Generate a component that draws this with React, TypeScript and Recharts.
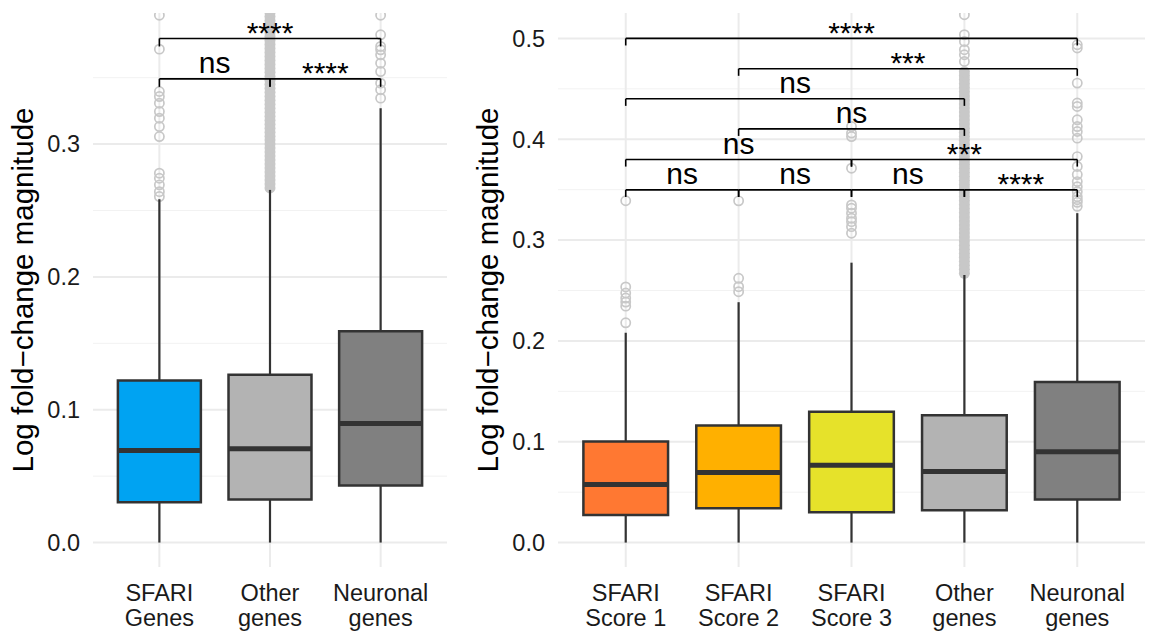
import React from 'react';
import { ComposedChart, XAxis, YAxis, CartesianGrid, ReferenceArea, ReferenceLine, Scatter } from 'recharts';

const FONT = '"Liberation Sans", Arial, Helvetica, sans-serif';

// ---------- Left panel data ----------
const leftLabels = [["SFARI", "Genes"], ["Other", "genes"], ["Neuronal", "genes"]];
const leftColors = ["#00A3F2", "#B3B3B3", "#808080"];
const leftLow = [0, 0, 0];
const leftQ1 = [0.0304, 0.0324, 0.043];
const leftMedian = [0.0693, 0.0706, 0.0897];
const leftQ3 = [0.1221, 0.1263, 0.159];
const leftHigh = [0.2585, 0.2655, 0.327];
const leftOutSfari = [0.2605, 0.2642, 0.2693, 0.2743, 0.2781, 0.3057, 0.3132, 0.3195, 0.3245, 0.3308, 0.3358, 0.3396, 0.3715, 0.397];
const leftOutOther: number[] = [];
const leftOutNeuronal = [0.3346, 0.3409, 0.3459, 0.3546, 0.3609, 0.3672, 0.371, 0.3735, 0.3823, 0.397];
const leftBandOther = [0.267, 0.27, 0.273, 0.276, 0.279, 0.282, 0.285, 0.288, 0.291, 0.294, 0.297, 0.3, 0.303, 0.306, 0.309, 0.312, 0.315, 0.318, 0.321, 0.324, 0.327, 0.33, 0.333, 0.336, 0.339, 0.342, 0.345, 0.348, 0.351, 0.354, 0.357, 0.36, 0.363, 0.366, 0.369, 0.372, 0.375, 0.378, 0.381, 0.384, 0.387, 0.39, 0.393, 0.396, 0.399];
const leftYTicks = [0, 0.1, 0.2, 0.3];
const leftYMinor = [0.05, 0.15, 0.25, 0.35];
const leftDomain = [-0.0184, 0.3987];
const leftBracketFrom = [0, 1, 0];
const leftBracketTo = [1, 2, 2];
const leftBracketY = [0.3491, 0.3491, 0.3795];
const leftBracketText = ["ns", "****", "****"];

// ---------- Right panel data ----------
const rightLabels = [["SFARI", "Score 1"], ["SFARI", "Score 2"], ["SFARI", "Score 3"], ["Other", "genes"], ["Neuronal", "genes"]];
const rightColors = ["#FF7832", "#FFB000", "#E6E22A", "#B3B3B3", "#808080"];
const rightLow = [0, 0, 0, 0, 0];
const rightQ1 = [0.0274, 0.0341, 0.0301, 0.0321, 0.0427];
const rightMedian = [0.0576, 0.0695, 0.0767, 0.0705, 0.09];
const rightQ3 = [0.1003, 0.1162, 0.1297, 0.1264, 0.1592];
const rightHigh = [0.2081, 0.2384, 0.2776, 0.2654, 0.3267];
const rightOutS1 = [0.218, 0.2345, 0.2385, 0.2425, 0.2475, 0.2535, 0.339];
const rightOutS2 = [0.2488, 0.2538, 0.2621, 0.3389];
const rightOutS3 = [0.3068, 0.3133, 0.3183, 0.3217, 0.3267, 0.3316, 0.3349, 0.3713, 0.4027, 0.4061, 0.4126];
const rightOutOther = [0.4772, 0.4838, 0.4888, 0.497, 0.5037, 0.5235];
const rightOutNeuronal = [0.3335, 0.3375, 0.340, 0.343, 0.348, 0.353, 0.358, 0.365, 0.373, 0.3828, 0.4011, 0.4077, 0.4126, 0.4193, 0.4325, 0.4359, 0.4557, 0.4905, 0.4937];
const rightBandOther = [0.267, 0.271, 0.275, 0.279, 0.283, 0.287, 0.291, 0.295, 0.299, 0.303, 0.307, 0.311, 0.315, 0.319, 0.323, 0.327, 0.331, 0.335, 0.339, 0.343, 0.347, 0.351, 0.355, 0.359, 0.363, 0.367, 0.371, 0.375, 0.379, 0.383, 0.387, 0.391, 0.395, 0.399, 0.403, 0.407, 0.411, 0.415, 0.419, 0.423, 0.427, 0.431, 0.435, 0.439, 0.443, 0.447, 0.451, 0.455, 0.459, 0.463, 0.467];
const rightYTicks = [0, 0.1, 0.2, 0.3, 0.4, 0.5];
const rightYMinor = [0.05, 0.15, 0.25, 0.35, 0.45];
const rightDomain = [-0.0242, 0.5252];
const rightBracketFrom = [0, 1, 2, 3, 0, 2, 1, 0, 1, 0];
const rightBracketTo = [1, 2, 3, 4, 2, 4, 3, 3, 4, 4];
const rightBracketY = [0.3498, 0.3498, 0.3498, 0.3498, 0.3799, 0.3799, 0.4103, 0.4401, 0.4699, 0.5];
const rightBracketText = ["ns", "ns", "ns", "****", "ns", "***", "ns", "ns", "***", "****"];

const TITLE = "Log fold\u2212change magnitude";

type PanelProps = {
  width: number;
  yAxisWidth: number;
  rightMargin: number;
  labels: string[][];
  colors: string[];
  low: number[];
  q1: number[];
  median: number[];
  q3: number[];
  high: number[];
  outliers: number[][];
  bands: number[][];
  yTicks: number[];
  yMinor: number[];
  domain: number[];
  bFrom: number[];
  bTo: number[];
  bY: number[];
  bText: string[];
  tip: number;
};

const Panel = (p: PanelProps) => {
  const n = p.labels.length;
  const idx = p.labels.map((_, i) => i);
  const half = 0.375;
  const outPts = p.outliers.flatMap((arr, i) => arr.map((v) => ({ x: i, y: v })));
  const bandPts = p.bands.flatMap((arr, i) => arr.map((v) => ({ x: i, y: v })));
  const labelPts = p.bText.map((t, k) => ({ x: (p.bFrom[k] + p.bTo[k]) / 2, y: p.bY[k], label: t }));

  const xTick = (props: any) => {
    const { x, y, payload } = props;
    const lines = p.labels[Math.round(payload.value)] || [];
    return (
      <text x={x} y={y} textAnchor="middle" fontSize={23.5} fill="#1a1a1a" fontFamily={FONT}>
        {lines.map((l, k) => (
          <tspan key={k} x={x} dy={k === 0 ? 34 : 25}>{l}</tspan>
        ))}
      </text>
    );
  };

  const yTitle = (props: any) => {
    const vb = props.viewBox || {};
    const cx = vb.x + vb.width - 70.5;
    const cy = vb.y + vb.height / 2;
    return (
      <text x={cx} y={cy} transform={`rotate(-90 ${cx} ${cy})`} textAnchor="middle" dominantBaseline="central"
        fontSize={29.5} fill="#000" fontFamily={FONT}>{TITLE}</text>
    );
  };

  const ring = (props: any) => (
    <circle cx={props.cx} cy={props.cy} r={4.6} fill="none" stroke="#c8c8c8" strokeWidth={1.7} />
  );
  const blob = (props: any) => (
    <circle cx={props.cx} cy={props.cy} r={5.5} fill="#c8c8c8" stroke="none" />
  );
  const textShape = (props: any) => {
    const label: string = props.payload.label;
    const stars = label.startsWith('*');
    return (
      <text x={props.cx} y={props.cy} dy={stars ? 4.5 : -5.5} textAnchor="middle" fontSize={30}
        fill="#000" fontFamily={FONT}>{label}</text>
    );
  };

  return (
    <ComposedChart width={p.width} height={631} margin={{ top: 13, right: p.rightMargin, bottom: 0, left: 0 }}>
      <CartesianGrid horizontal vertical={false} horizontalValues={p.yMinor} stroke="#f2f2f2" strokeWidth={1} />
      <CartesianGrid horizontal vertical horizontalValues={p.yTicks} verticalValues={idx} stroke="#ebebeb" strokeWidth={2} />
      <XAxis type="number" dataKey="x" domain={[-0.6, n - 0.4]} ticks={idx} interval={0} allowDataOverflow
        axisLine={false} tickLine={false} tickSize={0} tickMargin={0} height={64} tick={xTick} />
      <YAxis type="number" domain={p.domain} ticks={p.yTicks} allowDataOverflow axisLine={false} tickLine={false}
        tickSize={0} tickMargin={13} width={p.yAxisWidth} tickFormatter={(v: number) => v.toFixed(1)}
        tick={{ fontSize: 23.5, fill: '#1a1a1a', fontFamily: FONT }} label={yTitle} />
      <Scatter data={bandPts} dataKey="y" shape={blob} isAnimationActive={false} zIndex={100} />
      <Scatter data={outPts} dataKey="y" shape={ring} isAnimationActive={false} zIndex={110} />
      {idx.map((i) => (
        <ReferenceLine key={`wl${i}`} segment={[{ x: i, y: p.low[i] }, { x: i, y: p.q1[i] }]} stroke="#333333" strokeWidth={2.2} zIndex={200} />
      ))}
      {idx.map((i) => (
        <ReferenceLine key={`wh${i}`} segment={[{ x: i, y: p.q3[i] }, { x: i, y: p.high[i] }]} stroke="#333333" strokeWidth={2.2} zIndex={200} />
      ))}
      {idx.map((i) => (
        <ReferenceArea key={`b${i}`} x1={i - half} x2={i + half} y1={p.q1[i]} y2={p.q3[i]} fill={p.colors[i]} fillOpacity={1}
          stroke="#333333" strokeWidth={2.5} zIndex={300} />
      ))}
      {idx.map((i) => (
        <ReferenceLine key={`m${i}`} segment={[{ x: i - half, y: p.median[i] }, { x: i + half, y: p.median[i] }]} stroke="#333333" strokeWidth={5} zIndex={400} />
      ))}
      {p.bText.map((_, k) => (
        <ReferenceLine key={`bh${k}`} segment={[{ x: p.bFrom[k], y: p.bY[k] }, { x: p.bTo[k], y: p.bY[k] }]} stroke="#000" strokeWidth={1.6} zIndex={500} />
      ))}
      {p.bText.map((_, k) => (
        <ReferenceLine key={`bl${k}`} segment={[{ x: p.bFrom[k], y: p.bY[k] }, { x: p.bFrom[k], y: p.bY[k] - p.tip }]} stroke="#000" strokeWidth={1.6} zIndex={500} />
      ))}
      {p.bText.map((_, k) => (
        <ReferenceLine key={`br${k}`} segment={[{ x: p.bTo[k], y: p.bY[k] }, { x: p.bTo[k], y: p.bY[k] - p.tip }]} stroke="#000" strokeWidth={1.6} zIndex={500} />
      ))}
      <Scatter data={labelPts} dataKey="y" shape={textShape} isAnimationActive={false} zIndex={600} />
    </ComposedChart>
  );
};

export default function App() {
  return (
    <div style={{ position: 'absolute', left: 0, top: 0, width: 1152, height: 631, background: '#fff', fontFamily: FONT }}>
      <div style={{ position: 'absolute', left: 0, top: 0 }}>
        <Panel width={460} yAxisWidth={93} rightMargin={13} labels={leftLabels} colors={leftColors}
          low={leftLow} q1={leftQ1} median={leftMedian} q3={leftQ3} high={leftHigh}
          outliers={[leftOutSfari, leftOutOther, leftOutNeuronal]} bands={[[], leftBandOther, []]}
          yTicks={leftYTicks} yMinor={leftYMinor} domain={leftDomain}
          bFrom={leftBracketFrom} bTo={leftBracketTo} bY={leftBracketY} bText={leftBracketText} tip={0.006} />
      </div>
      <div style={{ position: 'absolute', left: 464, top: 0 }}>
        <Panel width={688} yAxisWidth={94} rightMargin={7} labels={rightLabels} colors={rightColors}
          low={rightLow} q1={rightQ1} median={rightMedian} q3={rightQ3} high={rightHigh}
          outliers={[rightOutS1, rightOutS2, rightOutS3, rightOutOther, rightOutNeuronal]} bands={[[], [], [], rightBandOther, []]}
          yTicks={rightYTicks} yMinor={rightYMinor} domain={rightDomain}
          bFrom={rightBracketFrom} bTo={rightBracketTo} bY={rightBracketY} bText={rightBracketText} tip={0.007} />
      </div>
    </div>
  );
}
